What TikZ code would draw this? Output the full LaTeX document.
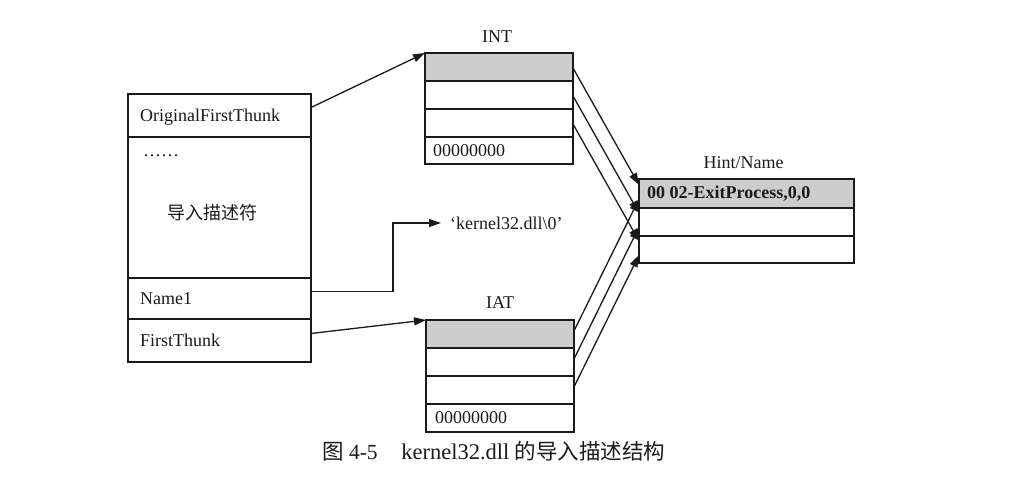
\documentclass[tikz,border=0pt]{standalone}
\usepackage{fontspec}
\setmainfont{Liberation Serif}
\newfontfamily\cjk{Noto Sans CJK SC}
\usetikzlibrary{arrows.meta,calc}
\definecolor{ink}{HTML}{1A1A1A}
\definecolor{shade}{HTML}{CDCDCD}
\begin{document}
\begin{tikzpicture}[x=1pt,y=-1pt,
  cellbox/.style 2 args={draw=ink, line width=1.3pt, minimum width=#1, minimum height=#2, inner sep=0pt, outer sep=0pt, anchor=north west},
  txt/.style={inner sep=0pt, text=ink, font=\fontsize{18}{21}\selectfont},
  arr/.style={draw=ink, line width=1.3pt, -{Triangle[length=12pt,width=8pt]}}]
\fill[white] (0,0) rectangle (1036,478);
\useasboundingbox (0,0) rectangle (1036,478);

% descriptor box
\node[cellbox={183pt}{43pt}] (oft) at (128,94) {};
\node[cellbox={183pt}{141pt}] (desc) at (128,137) {};
\node[cellbox={183pt}{41pt}] (nm) at (128,278) {};
\node[cellbox={183pt}{43pt}] (ft) at (128,319) {};
\node[txt, anchor=west] (toft) at ([xshift=12pt,yshift=-2pt]oft.west) {OriginalFirstThunk};
\node[txt, anchor=west] (tdots) at (143,156) {……};
\node[txt] (tdesc) at (212,213) {\cjk 导入描述符};
\node[txt, anchor=west] (tnm) at ([xshift=12pt]nm.west) {Name1};
\node[txt, anchor=west] (tft) at ([xshift=12pt]ft.west) {FirstThunk};

% INT
\node[cellbox={148pt}{28pt}, fill=shade] (int1) at (425,53) {};
\node[cellbox={148pt}{28pt}] (int2) at (425,81) {};
\node[cellbox={148pt}{28pt}] (int3) at (425,109) {};
\node[cellbox={148pt}{27pt}] (int4) at (425,137) {};
\node[txt, anchor=west] (tint4) at ([xshift=8pt]int4.west) {00000000};
\node[txt] (lint) at ($(int1.north)+(-2,-16)$) {INT};

% IAT
\node[cellbox={148pt}{28pt}, fill=shade] (iat1) at (426,320) {};
\node[cellbox={148pt}{28pt}] (iat2) at (426,348) {};
\node[cellbox={148pt}{28pt}] (iat3) at (426,376) {};
\node[cellbox={148pt}{28pt}] (iat4) at (426,404) {};
\node[txt, anchor=west] (tiat4) at ([xshift=9pt]iat4.west) {00000000};
\node[txt] (liat) at ($(iat1.north)+(0,-17)$) {IAT};

% Hint/Name
\node[cellbox={215pt}{29pt}, fill=shade] (hint1) at (639,179) {};
\node[cellbox={215pt}{28pt}] (hint2) at (639,208) {};
\node[cellbox={215pt}{27pt}] (hint3) at (639,236) {};
\node[txt, anchor=west, font=\fontsize{18}{21}\selectfont\bfseries] (thint) at ([xshift=8pt]hint1.west) {00 02-ExitProcess,0,0};
\node[txt] (lhint) at ($(hint1.north)+(-3,-16)$) {Hint/Name};

% dll name string
\node[txt, anchor=west] (kstr) at (450,223) {‘kernel32.dll\textbackslash 0’};

% connectors
\draw[arr] ([yshift=8pt]oft.east) -- (int1.north west);
\draw[arr] ([yshift=7pt]nm.east) -- ++(82,0) |- ([xshift=-9pt]kstr.west);
\draw[arr] ([yshift=7pt]ft.east) -- (iat1.north west);

\coordinate (h1) at ($(hint1.north west)+(0,6)$);
\coordinate (h2) at ($(hint1.north west)+(0,20)$);
\coordinate (h3) at ($(hint1.north west)+(0,34)$);
\coordinate (h4) at ($(hint1.north west)+(0,48)$);
\coordinate (h5) at ($(hint1.north west)+(0,62)$);
\coordinate (h6) at ($(hint1.north west)+(0,76)$);

\draw[arr] ([yshift=-1pt]int1.east) -- (h1);
\draw[arr] ([yshift=-1pt]int2.east) -- (h3);
\draw[arr] ([yshift=-1pt]int3.east) -- (h5);
\draw[arr] ([yshift=3pt]iat1.east) -- (h2);
\draw[arr] ([yshift=3pt]iat2.east) -- (h4);
\draw[arr] ([yshift=3pt]iat3.east) -- (h6);

% caption
\node[txt, anchor=west, font=\fontsize{21.5}{24}\selectfont] (cap) at (322,451) {{\cjk 图}\ 4-5\hspace{1.1em}{\fontsize{22.5}{24}\selectfont kernel32.dll}\ {\cjk 的导入描述结构}};
\end{tikzpicture}
\end{document}
